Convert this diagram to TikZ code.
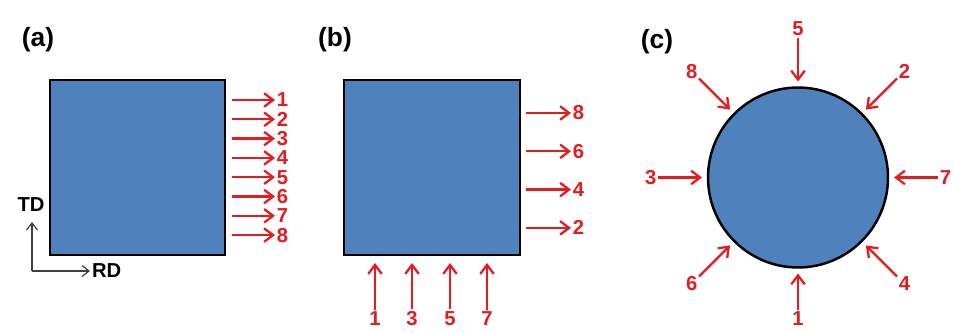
\documentclass[tikz,border=0pt]{standalone}
\usepackage{fontspec}
\setmainfont{Liberation Sans}
\usetikzlibrary{arrows.meta,positioning,calc}
\definecolor{samplblue}{RGB}{79,129,189}
\definecolor{pathred}{RGB}{228,28,32}

\begin{document}
\begin{tikzpicture}[
  x=0.02cm, y=0.02cm,
  sample/.style={draw=black, line width=1.4pt, fill=samplblue, inner sep=0pt},
  cut/.style={draw=pathred, line width=1.3pt, -{Straight Barb[length=1.8mm,width=2.7mm]}},
  cut label/.style={text=pathred, font=\bfseries\fontsize{11.5}{12}\selectfont, inner sep=0.8pt},
  axis/.style={draw=black!75, line width=0.7pt, -{Straight Barb[length=1.4mm,width=2.2mm]}},
  axis label/.style={font=\bfseries\fontsize{11.5}{12}\selectfont, inner sep=1pt},
  panel/.style={font=\bfseries\fontsize{15}{16}\selectfont}
]
  \useasboundingbox (0,0) rectangle (953,332);

  % (a) square, eight cuts along RD
  \node[panel] (pa) at (38,292) {(a)};
  \node[sample, minimum width=3.5cm, minimum height=3.5cm] (sqa) at (137.5,164.5) {};
  \foreach \i in {1,...,8} {
    \coordinate (ta\i) at (232,{232-(\i-1)*19.3});
    \node[cut label, anchor=west] (a\i) at (275,{232-(\i-1)*19.3}) {\i};
    \draw[cut] (ta\i) -- (a\i.west);
  }
  % sample axes
  \coordinate (o) at (32,61);
  \node[axis label] (td) at (31,127) {TD};
  \node[axis label, anchor=west] (rd) at (90,61) {RD};
  \draw[axis] (o) -- (32,110);
  \draw[axis] (o) -- (rd.west);

  % (b) square, cuts on two faces
  \node[panel] (pb) at (335,292) {(b)};
  \node[sample, minimum width=3.52cm, minimum height=3.5cm] (sqb) at (432,164.5) {};
  \foreach \n [count=\k] in {8,6,4,2} {
    \coordinate (tb\n) at (526,{219-(\k-1)*38.3});
    \node[cut label, anchor=west] (b\n) at (571,{219-(\k-1)*38.3}) {\n};
    \draw[cut] (tb\n) -- (b\n.west);
  }
  \foreach \n/\xx in {1/375,3/412,5/450,7/487} {
    \node[cut label, anchor=south] (b\n) at (\xx,5) {\n};
    \coordinate (hb\n) at (\xx,69);
    \draw[cut] (b\n.north) -- (hb\n);
  }

  % (c) disc, radial cuts
  \node[panel] (pc) at (657,290) {(c)};
  \node[sample, circle, minimum size=3.6cm] (disc) at (798,154.5) {};
  \foreach \n/\ang/\rr [evaluate=\ang as \opp using {int(\ang+180)}] in
      {5/90/140,2/45/140,7/0/140,4/-45/140,1/-90/132,6/-135/140,3/180/140,8/135/140} {
    \node[cut label, anchor=\opp] (c\n) at ($(disc.center)+(\ang:\rr)$) {\n};
    \coordinate (hc\n) at ($(disc.center)+(\ang:96)$);
    \draw[cut] (c\n.\opp) -- (hc\n);
  }
\end{tikzpicture}
\end{document}
